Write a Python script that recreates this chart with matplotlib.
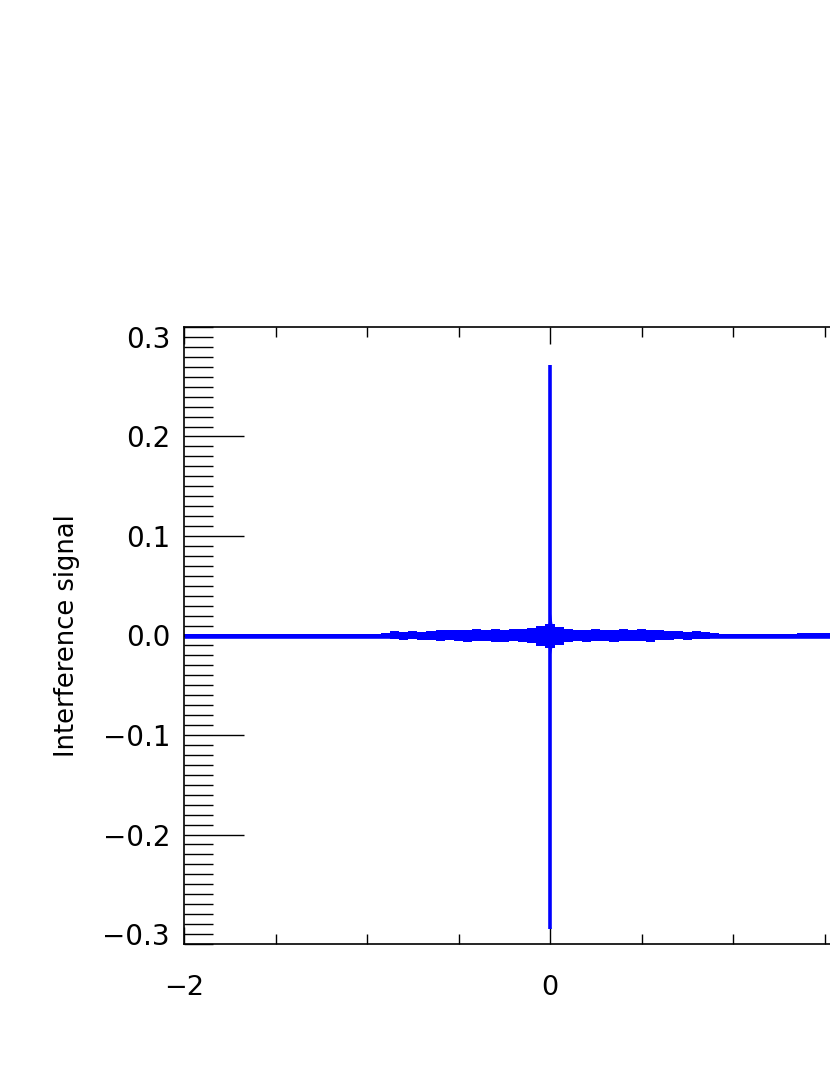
import matplotlib.pyplot as plt
import numpy as np
from matplotlib.ticker import MultipleLocator, FixedLocator

# 干涉图：基线附近噪声包络（从图上读出，单位 0.001）
env_x = [-2.0, -1.6, -1.2, -1.05,
         -1.00, -0.95, -0.90, -0.85, -0.80, -0.75, -0.70, -0.65, -0.60, -0.55,
         -0.50, -0.45, -0.40, -0.35, -0.30, -0.25, -0.20, -0.15, -0.10, -0.05,
         0.00, 0.05, 0.10, 0.15, 0.20, 0.25, 0.30, 0.35, 0.40, 0.45,
         0.50, 0.55, 0.60, 0.65, 0.70, 0.75, 0.80, 0.85, 0.90, 0.95,
         1.00, 1.10, 1.20, 1.30, 1.40, 1.50, 1.60, 1.80, 2.0]
env_upper = [2, 2, 2, 2,
             2, 2, 3, 5, 4, 5, 4, 5, 6, 6,
             6, 6, 7, 6, 7, 6, 7, 7, 8, 10,
             12, 9, 7, 6, 6, 7, 6, 6, 7, 6,
             7, 6, 6, 5, 5, 4, 5, 4, 3, 2,
             2, 2, 2, 2, 3, 3, 3, 2, 2]
env_lower = [2, 2, 2, 2,
             2, 2, 3, 4, 5, 4, 5, 5, 6, 5,
             6, 7, 6, 6, 7, 7, 6, 7, 8, 11,
             13, 10, 7, 6, 7, 6, 6, 7, 6, 6,
             6, 7, 5, 5, 4, 5, 4, 4, 3, 2,
             2, 2, 2, 2, 2, 2, 2, 2, 2]

# 零光程差处的中心峰
burst_x = [-0.012, 0.0, 0.012]
burst_upper = [0.010, 0.026, 0.010]
burst_lower = [-0.010, -0.021, -0.010]
peak_max = 0.272
peak_min = -0.295

fig = plt.figure(figsize=(8.3, 10.75), dpi=100)
# 坐标轴右边超出画面（原图被裁剪）
ax = fig.add_axes([184 / 830, 131 / 1075, 732 / 830, 617 / 1075])

blue = '#0000ff'
upper = np.array(env_upper) * 1e-3
lower = -np.array(env_lower) * 1e-3
ax.plot(env_x, np.zeros(len(env_x)), color=blue, lw=3.3, solid_capstyle='butt')
ax.fill_between(env_x, lower, upper, color=blue, lw=0, step='mid')
ax.fill_between(burst_x, burst_lower, burst_upper, color=blue, lw=0)
ax.vlines(0, peak_min, peak_max, color=blue, lw=2.6)

ax.set_xlim(-2, 2)
ax.set_ylim(-0.31, 0.31)

ax.xaxis.set_major_locator(FixedLocator([-2, 0]))
ax.xaxis.set_minor_locator(MultipleLocator(0.5))
ax.yaxis.set_major_locator(MultipleLocator(0.1))
ax.yaxis.set_minor_locator(MultipleLocator(0.01))
ax.yaxis.set_major_formatter(plt.FuncFormatter(lambda v, p: f'{v:.1f}'.replace('-', '\u2212')))
ax.xaxis.set_major_formatter(plt.FuncFormatter(lambda v, p: f'{v:.0f}'.replace('-', '\u2212')))

ax.tick_params(axis='x', which='major', direction='in', length=12, width=1, top=True, pad=22, labelsize=19.5)
ax.tick_params(axis='x', which='minor', direction='in', length=7, width=1, top=True)
ax.tick_params(axis='y', which='major', direction='in', length=43, width=1, right=True, pad=10, labelsize=20)
ax.tick_params(axis='y', which='minor', direction='in', length=21, width=1, right=True)

for sp in ax.spines.values():
    sp.set_linewidth(1.2)

# 0.3 和 -0.3 处只画短刻度
fig.canvas.draw()
for t in ax.yaxis.get_major_ticks():
    if abs(abs(t.get_loc()) - 0.3) < 1e-6:
        t.tick1line.set_markersize(21)
        t.tick2line.set_markersize(21)

ax.set_ylabel('Interference signal', fontsize=18.5, labelpad=16)

plt.savefig('out.png', dpi=100)
